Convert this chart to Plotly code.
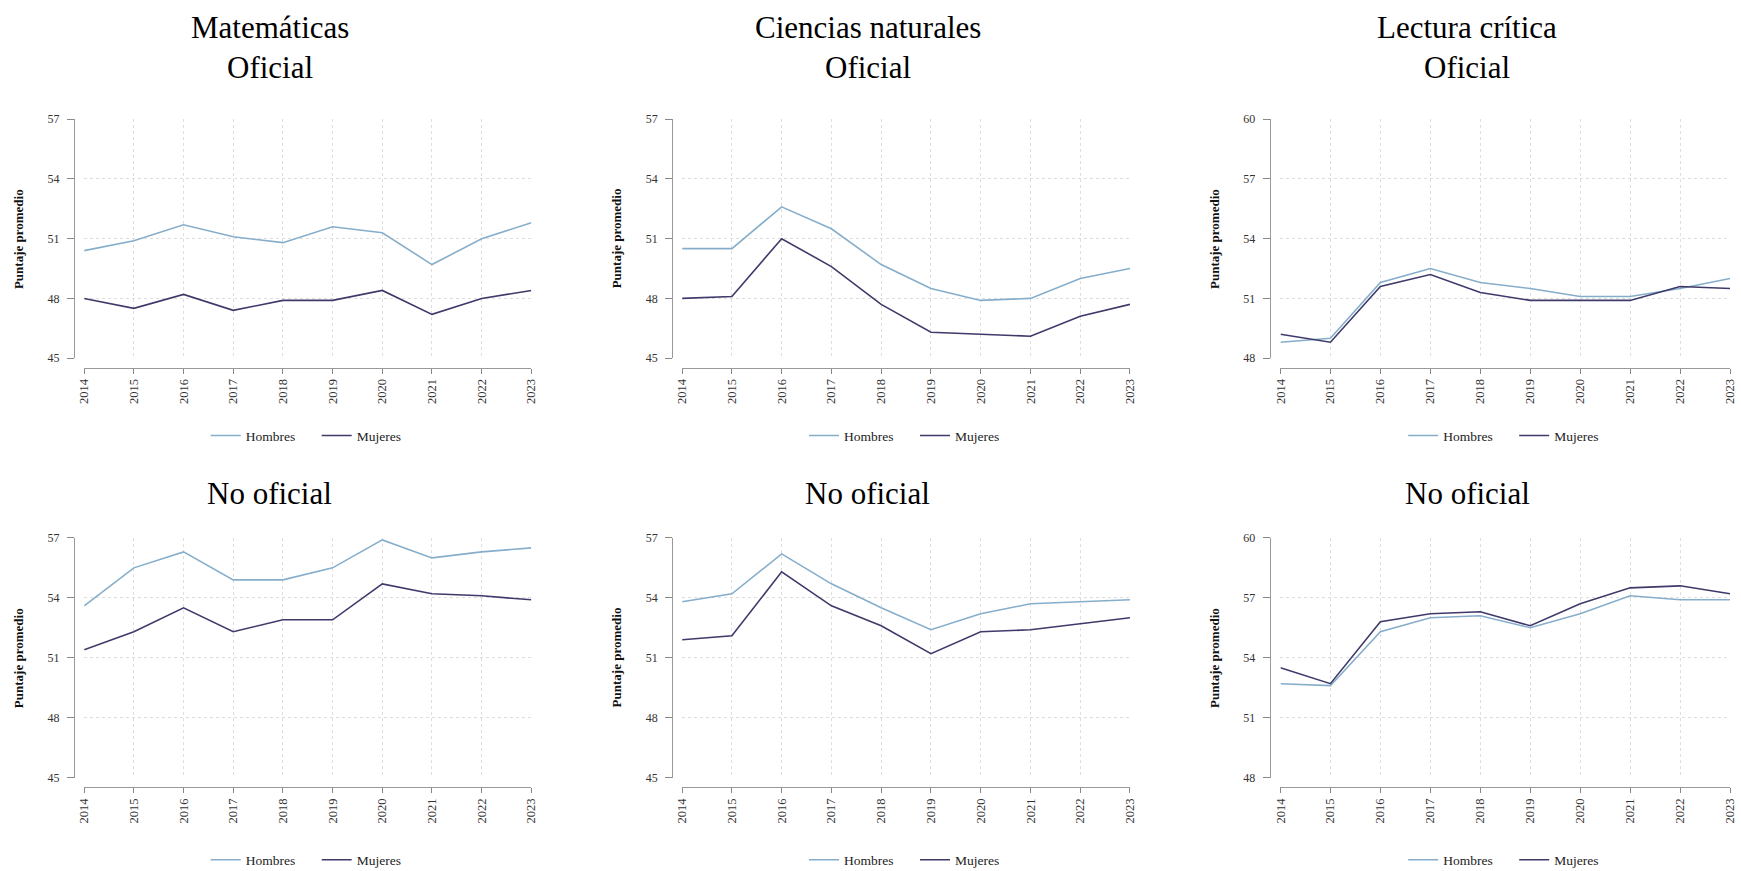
import plotly.graph_objects as go

W, H = 1741, 900   # figure is taller than the 871px window so the bottom legend is not clamped
FONT = "Liberation Serif"

years = [2014, 2015, 2016, 2017, 2018, 2019, 2020, 2021, 2022, 2023]

subjects = ["Matemáticas", "Ciencias naturales", "Lectura crítica"]
sectors = ["Oficial", "No oficial"]

# Oficial
mat_of_h = [50.4, 50.9, 51.7, 51.1, 50.8, 51.6, 51.3, 49.7, 51.0, 51.8]
mat_of_m = [48.0, 47.5, 48.2, 47.4, 47.9, 47.9, 48.4, 47.2, 48.0, 48.4]
cie_of_h = [50.5, 50.5, 52.6, 51.5, 49.7, 48.5, 47.9, 48.0, 49.0, 49.5]
cie_of_m = [48.0, 48.1, 51.0, 49.6, 47.7, 46.3, 46.2, 46.1, 47.1, 47.7]
lec_of_h = [48.8, 49.0, 51.8, 52.5, 51.8, 51.5, 51.1, 51.1, 51.5, 52.0]
lec_of_m = [49.2, 48.8, 51.6, 52.2, 51.3, 50.9, 50.9, 50.9, 51.6, 51.5]
# No oficial
mat_no_h = [53.6, 55.5, 56.3, 54.9, 54.9, 55.5, 56.9, 56.0, 56.3, 56.5]
mat_no_m = [51.4, 52.3, 53.5, 52.3, 52.9, 52.9, 54.7, 54.2, 54.1, 53.9]
cie_no_h = [53.8, 54.2, 56.2, 54.7, 53.5, 52.4, 53.2, 53.7, 53.8, 53.9]
cie_no_m = [51.9, 52.1, 55.3, 53.6, 52.6, 51.2, 52.3, 52.4, 52.7, 53.0]
lec_no_h = [52.7, 52.6, 55.3, 56.0, 56.1, 55.5, 56.2, 57.1, 56.9, 56.9]
lec_no_m = [53.5, 52.7, 55.8, 56.2, 56.3, 55.6, 56.7, 57.5, 57.6, 57.2]

yticks_mc = [45, 48, 51, 54, 57]
yticks_lec = [48, 51, 54, 57, 60]

series_names = ["Hombres", "Mujeres"]
colors = ["#86AECB", "#3E3A6A"]

panels = [
    (0, 0, mat_of_h, mat_of_m, yticks_mc),
    (0, 1, cie_of_h, cie_of_m, yticks_mc),
    (0, 2, lec_of_h, lec_of_m, yticks_lec),
    (1, 0, mat_no_h, mat_no_m, yticks_mc),
    (1, 1, cie_no_h, cie_no_m, yticks_mc),
    (1, 2, lec_no_h, lec_no_m, yticks_lec),
]

# layout geometry (pixels)
col_x0 = [77.8, 680.6, 1283.8]
col_x1 = [528.6, 1132.1, 1737.0]
col_yaxis = [67.5, 670.6, 1273.1]
row_top = [114.0, 539.3]
row_bot = [356.7, 782.7]
row_xaxis = [366.7, 792.7]
row_legend = [435.5, 866.5]

def px(x):
    return x / W

def py(y):
    return 1 - y / H

fig = go.Figure()
annotations = []
layout = {}

for i, (r, c, h_vals, m_vals, yt) in enumerate(panels):
    k = i + 1
    xa = "x" if k == 1 else f"x{k}"
    ya = "y" if k == 1 else f"y{k}"
    lg = "legend" if k == 1 else f"legend{k}"
    for name, vals, col in zip(series_names, [h_vals, m_vals], colors):
        fig.add_trace(go.Scatter(
            x=years, y=vals, mode="lines", name=name,
            line=dict(color=col, width=1.6),
            xaxis=xa, yaxis=ya, legend=lg, showlegend=True,
        ))
    xkey = "xaxis" if k == 1 else f"xaxis{k}"
    ykey = "yaxis" if k == 1 else f"yaxis{k}"
    layout[xkey] = dict(
        domain=[px(col_x0[c]), px(col_x1[c])],
        range=[years[0], years[-1]],
        anchor="free", position=py(row_xaxis[r]),
        tickmode="array", tickvals=years, ticktext=[str(v) for v in years],
        tickangle=-90, ticks="outside", ticklen=5, tickcolor="#888888",
        showline=True, linecolor="#999999", linewidth=1.2,
        showgrid=True, gridcolor="#dedede", griddash="dot", gridwidth=1,
        zeroline=False,
        tickfont=dict(family=FONT, size=12.5, color="#333333"),
    )
    layout[ykey] = dict(
        domain=[py(row_bot[r]), py(row_top[r])],
        range=[yt[0], yt[-1]],
        anchor="free", position=px(col_yaxis[c]),
        tickmode="array", tickvals=yt, ticktext=[str(v) for v in yt],
        ticks="outside", ticklen=7, tickcolor="#888888",
        ticklabelstandoff=5,
        showline=True, linecolor="#999999", linewidth=1.2,
        showgrid=True, gridcolor="#dedede", griddash="dot", gridwidth=1,
        zeroline=False,
        tickfont=dict(family=FONT, size=12, color="#333333"),
    )
    center = (col_x0[c] + col_x1[c]) / 2
    layout[lg] = dict(
        x=px(center + 9), xanchor="center",
        y=py(row_legend[r]), yanchor="middle",
        orientation="h", bgcolor="rgba(0,0,0,0)",
        font=dict(family=FONT, size=13.5, color="#222222"),
        itemwidth=30, tracegroupgap=0,
        entrywidth=66, entrywidthmode="pixels",
    )
    # y-axis title
    annotations.append(dict(
        text="<b>Puntaje promedio</b>", textangle=-90,
        x=px(col_yaxis[c] - 56), y=py((row_top[r] + row_bot[r]) / 2),
        xref="paper", yref="paper", xanchor="center", yanchor="middle",
        showarrow=False, font=dict(family=FONT, size=13, color="#111111"),
    ))
    # panel titles
    tcx = center - 38.5
    if r == 0:
        annotations.append(dict(
            text=subjects[c], x=px(tcx), y=py(21), xref="paper", yref="paper",
            xanchor="center", yanchor="middle", showarrow=False,
            font=dict(family=FONT, size=31, color="#000000"),
        ))
        annotations.append(dict(
            text=sectors[0], x=px(tcx), y=py(61.5), xref="paper", yref="paper",
            xanchor="center", yanchor="middle", showarrow=False,
            font=dict(family=FONT, size=31, color="#000000"),
        ))
    else:
        annotations.append(dict(
            text=sectors[1], x=px(tcx), y=py(494), xref="paper", yref="paper",
            xanchor="center", yanchor="middle", showarrow=False,
            font=dict(family=FONT, size=31, color="#000000"),
        ))

fig.update_layout(
    width=W, height=H,
    margin=dict(l=0, r=0, t=0, b=0),
    paper_bgcolor="white", plot_bgcolor="white",
    font=dict(family=FONT),
    annotations=annotations,
    **layout,
)

fig.write_html(
    "out.html",
    config={"displayModeBar": False},
    post_script="document.body.style.margin='0';"
                "document.body.style.overflow='hidden';"
                "document.documentElement.style.overflow='hidden';",
)
